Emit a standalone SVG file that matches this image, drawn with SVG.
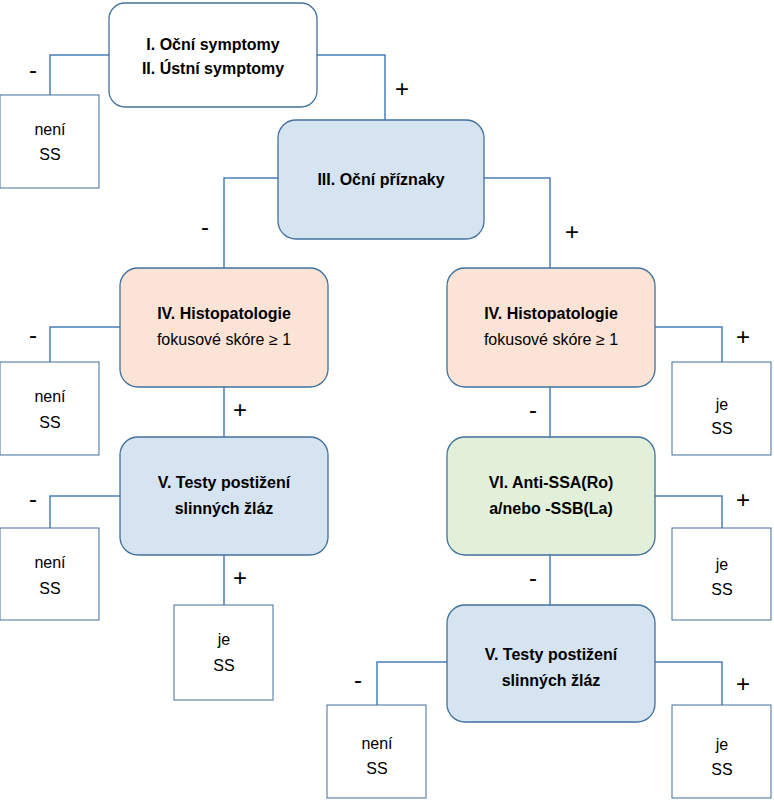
<svg xmlns="http://www.w3.org/2000/svg" width="774" height="800" viewBox="0 0 774 800">
<style>
.n{stroke:#41719c;stroke-width:1.3}
.r{fill:#fff;stroke:#41719c;stroke-width:1}
.t{font-family:"Liberation Sans",Arial,sans-serif;font-size:16px;fill:#000;text-anchor:middle}
.b{font-weight:bold}
.s{font-family:"Liberation Sans",Arial,sans-serif;font-size:24px;fill:#000;text-anchor:middle}
#c path{fill:none;stroke:#4a7ebb;stroke-width:1.5}
</style>
<rect width="774" height="800" fill="#fff"/>
<g id="c">
<path d="M109 55H50V95M317 55H385V120"/>
<path d="M278 178H224V268M484 178H550V268"/>
<path d="M120 327H50V362M224 387V437"/>
<path d="M120 496H50V528M224 555V605"/>
<path d="M655 327H722V362M550 387V437"/>
<path d="M655 496H722V528M550 555V605"/>
<path d="M447 662H377V705M655 662H722V705"/>
<text class="s" x="33" y="78">-</text><text class="s" x="402" y="97">+</text>
<text class="s" x="205" y="235">-</text><text class="s" x="572" y="240">+</text>
<text class="s" x="33" y="343">-</text><text class="s" x="240" y="418">+</text>
<text class="s" x="33" y="507">-</text><text class="s" x="240" y="586">+</text>
<text class="s" x="743" y="345">+</text><text class="s" x="533" y="418">-</text>
<text class="s" x="743" y="508">+</text><text class="s" x="533" y="586">-</text>
<text class="s" x="358" y="688">-</text><text class="s" x="743" y="692">+</text>
</g>
<g id="n1"><rect class="n" x="109" y="3" width="208" height="104" rx="16" fill="#fff"/><text class="t b" x="213" y="50">I.  Oční  symptomy</text><text class="t b" x="213" y="74">II. Ústní  symptomy</text></g>
<g id="n2"><rect class="r" x="0" y="95" width="99" height="93"/><text class="t" x="50" y="135">není</text><text class="t" x="50" y="160">SS</text></g>
<g id="n3"><rect class="n" x="278" y="120" width="206" height="119" rx="18" fill="#d6e3f0"/><text class="t b" x="381" y="185">III. Oční příznaky</text></g>
<g id="n4"><rect class="n" x="120" y="268" width="208" height="119" rx="18" fill="#fbe3d6"/><text class="t b" x="224" y="319">IV. Histopatologie</text><text class="t" x="224" y="345">fokusové skóre ≥ 1</text></g>
<g id="n5"><rect class="r" x="0" y="362" width="99" height="93"/><text class="t" x="50" y="402">není</text><text class="t" x="50" y="428">SS</text></g>
<g id="n6"><rect class="n" x="120" y="437" width="208" height="118" rx="18" fill="#d6e3f0"/><text class="t b" x="224" y="488">V.  Testy postižení</text><text class="t b" x="224" y="514">slinných žláz</text></g>
<g id="n7"><rect class="r" x="0" y="528" width="99" height="92"/><text class="t" x="50" y="568">není</text><text class="t" x="50" y="594">SS</text></g>
<g id="n8"><rect class="r" x="174" y="605" width="99" height="95"/><text class="t" x="224" y="645">je</text><text class="t" x="224" y="671">SS</text></g>
<g id="n9"><rect class="n" x="447" y="268" width="208" height="119" rx="18" fill="#fbe3d6"/><text class="t b" x="551" y="319">IV. Histopatologie</text><text class="t" x="551" y="345">fokusové skóre ≥ 1</text></g>
<g id="n10"><rect class="r" x="672" y="362" width="99" height="93"/><text class="t" x="722" y="410">je</text><text class="t" x="722" y="434">SS</text></g>
<g id="n11"><rect class="n" x="447" y="437" width="208" height="118" rx="18" fill="#e2efd9"/><text class="t b" x="551" y="488">VI. Anti-SSA(Ro)</text><text class="t b" x="551" y="514">a/nebo -SSB(La)</text></g>
<g id="n12"><rect class="r" x="672" y="528" width="99" height="92"/><text class="t" x="722" y="570">je</text><text class="t" x="722" y="595">SS</text></g>
<g id="n13"><rect class="n" x="447" y="605" width="208" height="117" rx="18" fill="#d6e3f0"/><text class="t b" x="551" y="660">V. Testy postižení</text><text class="t b" x="551" y="686">slinných žláz</text></g>
<g id="n14"><rect class="r" x="327" y="705" width="99" height="93"/><text class="t" x="377" y="749">není</text><text class="t" x="377" y="774">SS</text></g>
<g id="n15"><rect class="r" x="672" y="705" width="99" height="93"/><text class="t" x="722" y="750">je</text><text class="t" x="722" y="775">SS</text></g>
</svg>
